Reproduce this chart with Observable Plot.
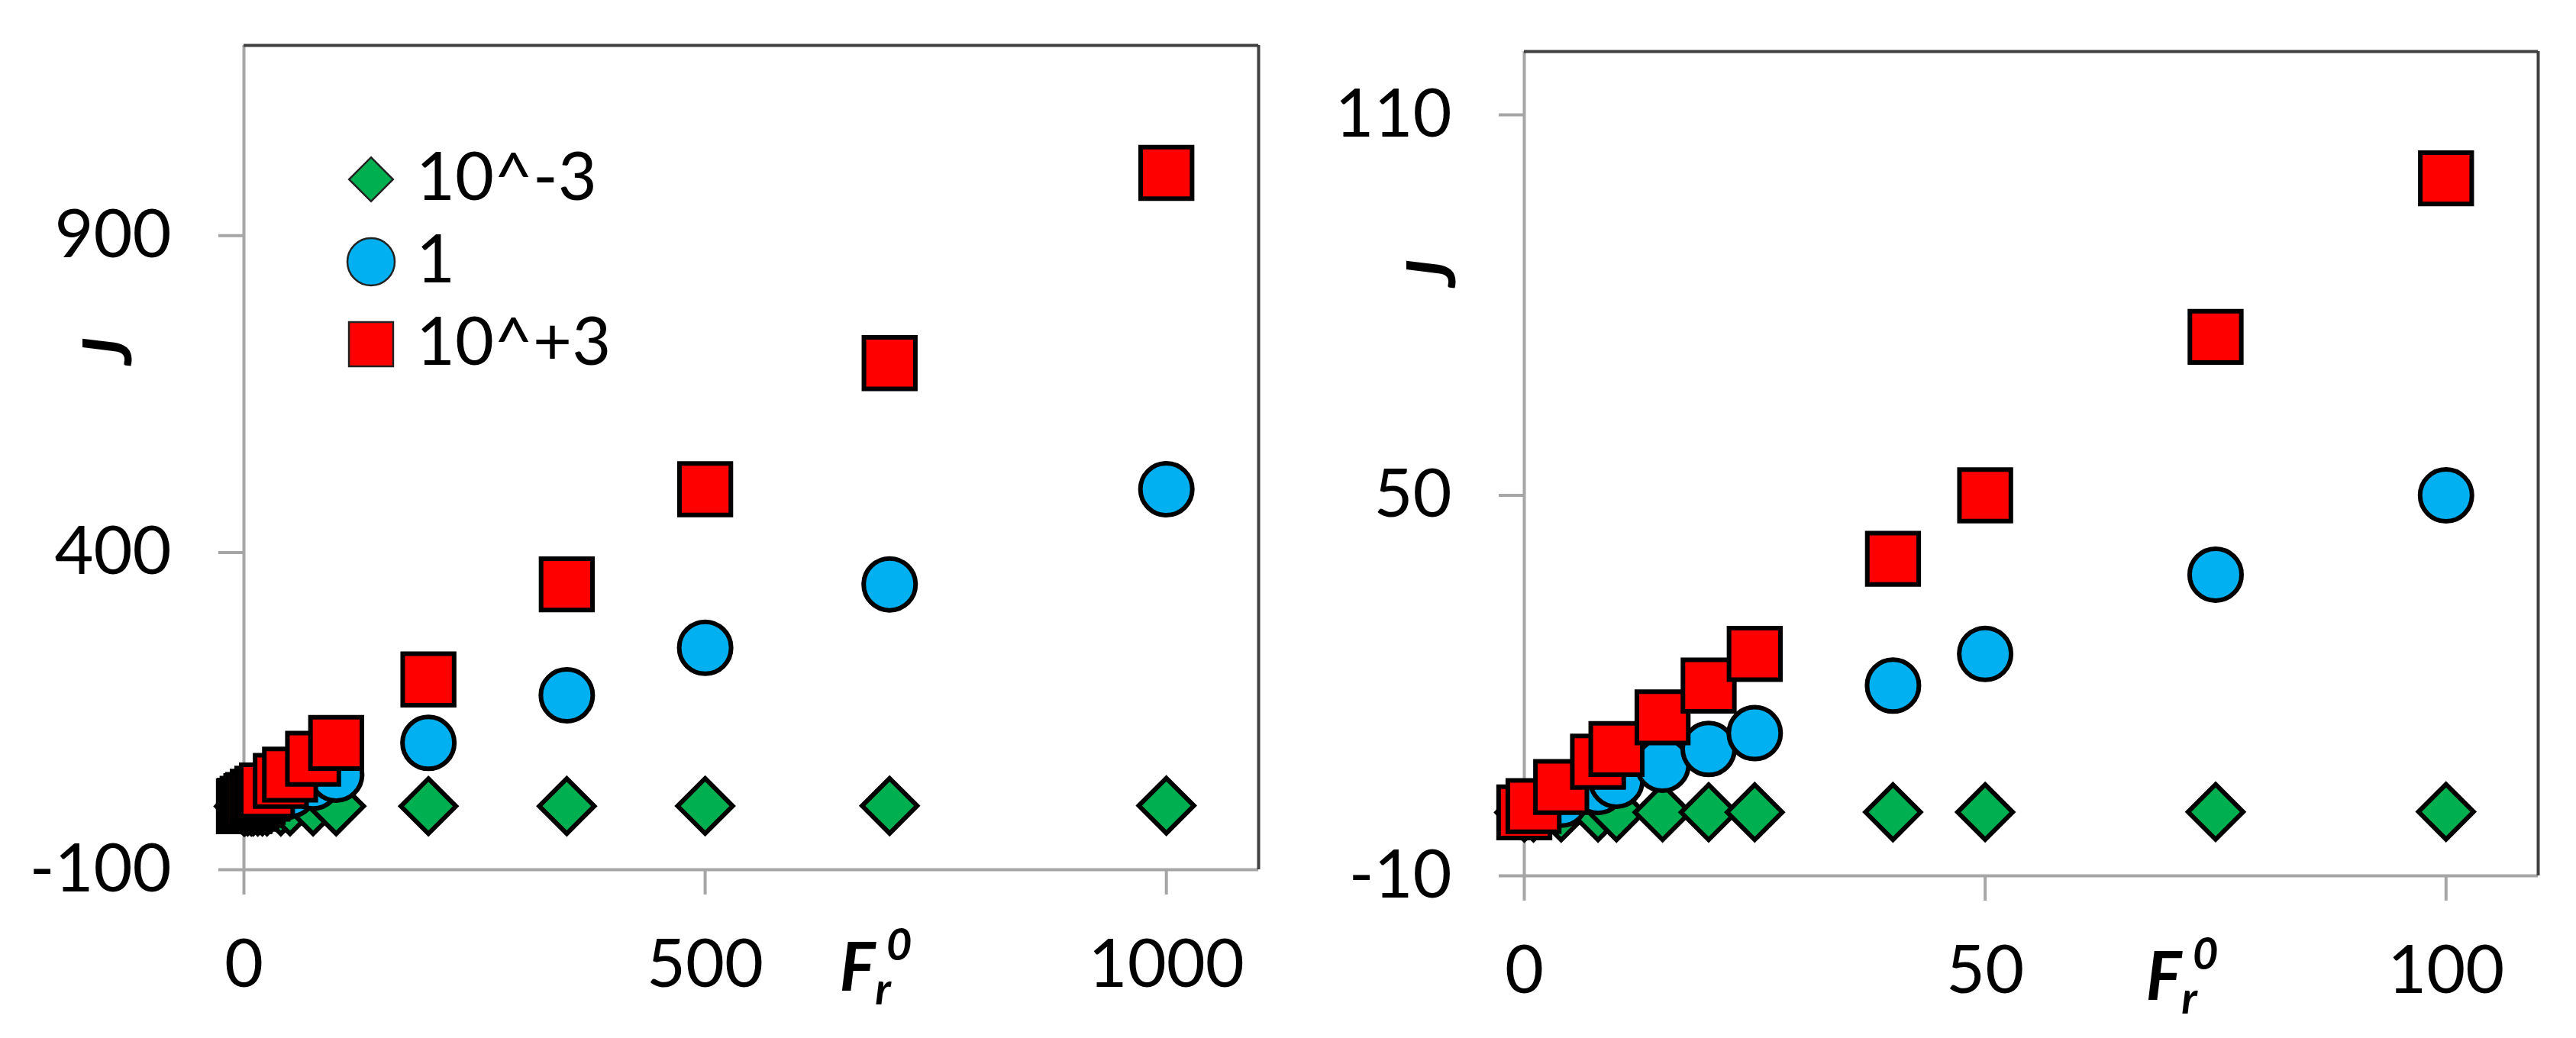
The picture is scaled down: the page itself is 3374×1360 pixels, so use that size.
<!DOCTYPE html>
<html><head><meta charset="utf-8">
<script src="https://cdn.jsdelivr.net/npm/d3@7"></script>
<script src="https://cdn.jsdelivr.net/npm/@observablehq/plot@0.6"></script>
<style>
html,body{margin:0;padding:0;background:#fff;}
#wrap{position:relative;width:3374px;height:1360px;overflow:hidden;background:#fff;}
#wrap > svg, #wrap > div{position:absolute;top:0;}
</style></head><body><div id="wrap"></div>
<script>
// ---- data ----
const seriesNames = ["10^-3", "1", "10^+3"];
const seriesColors = ["#00B050", "#00B0F0", "#FF0000"];
const seriesSymbols = ["diamond2", "circle", "square"];
const Fr0 = [0, 1, 4, 8, 10, 15, 20, 25, 40, 50, 75, 100, 200, 350, 500, 700, 1000];
const J_small = [0, 0, 0, 0.01, 0.01, 0.02, 0.02, 0.03, 0.04, 0.05, 0.08, 0.1, 0.2, 0.35, 0.5, 0.7, 1.0];
const J_one   = [0, 0.5, 2, 4, 5, 7.5, 10, 12.5, 20, 25, 37.5, 50, 100, 175, 250, 350, 500];
const J_large = [0, 1, 4, 8, 10, 15, 20, 25, 40, 50, 75, 100, 200, 350, 500, 699, 999];
const leftXTicks = [0, 500, 1000];
const leftYTicks = [-100, 400, 900];
const leftXDomain = [0, 1100];
const leftYDomain = [-100, 1200];
const rightXTicks = [0, 50, 100];
const rightYTicks = [-10, 50, 110];
const rightXDomain = [0, 110];
const rightYDomain = [-10, 120];

const seriesValues = [J_small, J_one, J_large];
const rows = seriesValues.map((vals, s) => Fr0.map((f, i) => ({F: f, J: vals[i], s})));

const FONT = "Lato, 'Open Sans', sans-serif";
const FS = 88;
const axisGray = "#a6a6a6";
const frameDark = "#404040";
const markerR = {diamond2: 32.5, circle: 34, square: 38};

function panel({width, height, margins, xDomain, yDomain, xTicks, yTicks, maxF}) {
  const marks = [
    Plot.ruleY([yDomain[0]], {stroke: axisGray, strokeWidth: 4}),
    Plot.ruleX([xDomain[0]], {stroke: axisGray, strokeWidth: 4}),
    Plot.ruleY([yDomain[1]], {stroke: frameDark, strokeWidth: 4}),
    Plot.ruleX([xDomain[1]], {stroke: frameDark, strokeWidth: 4}),
    Plot.axisX({ticks: xTicks, tickSize: 33, tickPadding: 58, stroke: axisGray, strokeWidth: 4, fill: "black", label: null, tickFormat: d => String(d)}),
    Plot.axisY({ticks: yTicks, tickSize: 33, tickPadding: 62, stroke: axisGray, strokeWidth: 4, fill: "black", label: null, tickFormat: d => String(d)})
  ];
  rows.forEach((data, s) => {
    const sym = seriesSymbols[s];
    marks.push(Plot.dot(data.filter(d => d.F <= maxF), {
      x: "F", y: "J", symbol: sym, r: markerR[sym],
      fill: seriesColors[s], stroke: "black", strokeWidth: 6, fillOpacity: 1
    }));
  });
  return Plot.plot({
    width, height,
    marginLeft: margins[0], marginRight: margins[1], marginTop: margins[2], marginBottom: margins[3],
    x: {domain: xDomain, ticks: xTicks},
    y: {domain: yDomain, ticks: yTicks},
    style: {fontFamily: FONT, fontSize: FS + "px", background: "transparent", overflow: "visible", color: "black"},
    marks
  });
}

function addLabels(svg, fx, fy, jx, jy) {
  const s = d3.select(svg);
  const t = s.append("text")
    .attr("x", fx).attr("y", fy)
    .attr("font-family", FONT).attr("font-size", FS)
    .attr("font-style", "italic").attr("font-weight", "bold").attr("fill", "black");
  t.append("tspan").text("F");
  t.append("tspan").attr("font-size", FS * 0.66).attr("dy", 18).text("r");
  t.append("tspan").attr("font-size", FS * 0.66).attr("dx", -6).attr("dy", -58).text("0");
  s.append("text")
    .attr("transform", `translate(${jx},${jy}) rotate(-90)`)
    .attr("text-anchor", "middle").attr("dy", "0.35em")
    .attr("font-family", FONT).attr("font-size", FS)
    .attr("font-style", "italic").attr("font-weight", "bold").attr("fill", "black")
    .text("J");
}

const wrap = document.getElementById("wrap");

const left = panel({width: 1687, height: 1360, margins: [319, 39, 59, 221],
  xDomain: leftXDomain, yDomain: leftYDomain, xTicks: leftXTicks, yTicks: leftYTicks, maxF: Infinity});
left.style.left = "0px";
wrap.appendChild(left);
addLabels(left, 1147, 1298, 141, 460);

const right = panel({width: 1687, height: 1360, margins: [309, 50, 67, 213],
  xDomain: rightXDomain, yDomain: rightYDomain, xTicks: rightXTicks, yTicks: rightYTicks, maxF: rightXDomain[1]});
right.style.left = "1687px";
wrap.appendChild(right);
addLabels(right, 1171, 1310, 188, 358);

// ---- legend (upper left of left panel) ----
const legend = d3.select(wrap).append("svg")
  .attr("width", 560).attr("height", 420)
  .style("left", "400px").style("top", "120px")
  .style("overflow", "visible");
const legSizes = {diamond2: 30 * 30 * Math.PI * 0.75, circle: 31 * 31 * Math.PI, square: 33 * 33 * Math.PI * 0.98};
const legCy = [115, 223, 331];
seriesNames.forEach((name, s) => {
  const sym = seriesSymbols[s];
  const g = legend.append("g").attr("transform", `translate(86,${legCy[s]})`);
  const symType = sym === "diamond2" ? d3.symbolDiamond2 : sym === "circle" ? d3.symbolCircle : d3.symbolSquare;
  g.append("path").attr("d", d3.symbol(symType, legSizes[sym])())
    .attr("fill", seriesColors[s]).attr("stroke", "#222").attr("stroke-width", 2.5);
  legend.append("text").attr("x", 145).attr("y", legCy[s] + 27)
    .attr("font-family", FONT).attr("font-size", FS).attr("fill", "black").text(name);
});
</script>
</body></html>
